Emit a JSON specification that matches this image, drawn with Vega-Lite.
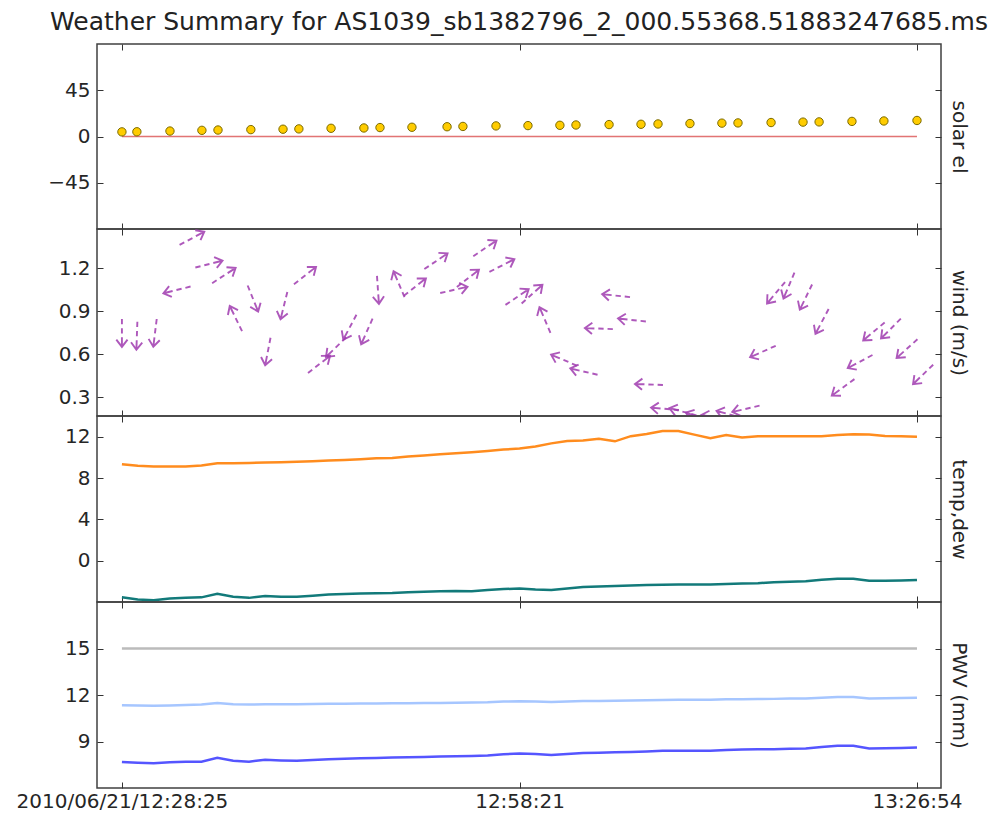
{
  "$schema": "https://vega.github.io/schema/vega-lite/v6.json",
  "padding": {"left": 15, "top": 9, "right": 5, "bottom": 0},
  "background": "white",
  "bounds": "flush",
  "title": {"text": "Weather Summary for AS1039_sb1382796_2_000.55368.51883247685.ms", "font": "DejaVu Sans", "fontSize": 25, "fontWeight": "normal", "color": "#222222", "anchor": "middle", "frame": "group", "offset": 8},
  "config": {
    "view": {"stroke": "#404040", "strokeWidth": 1.5},
    "axis": {"domain": false, "grid": false, "labelFont": "DejaVu Sans", "labelFontSize": 20, "labelColor": "#262626", "labelLimit": 400, "tickColor": "#333333", "tickWidth": 1, "titleFont": "DejaVu Sans", "titleFontSize": 20, "titleFontWeight": "normal", "titleColor": "#262626"}
  },
  "datasets": {
    "wx": [
      {"t":0,"temp":9.33,"dew":-3.55,"pwv_a":11.34,"pwv_b":7.68},
      {"t":70,"temp":9.18,"dew":-3.75,"pwv_a":11.32,"pwv_b":7.63},
      {"t":140,"temp":9.12,"dew":-3.82,"pwv_a":11.30,"pwv_b":7.60},
      {"t":211,"temp":9.12,"dew":-3.65,"pwv_a":11.33,"pwv_b":7.66},
      {"t":281,"temp":9.12,"dew":-3.58,"pwv_a":11.36,"pwv_b":7.70},
      {"t":351,"temp":9.22,"dew":-3.55,"pwv_a":11.38,"pwv_b":7.70},
      {"t":421,"temp":9.42,"dew":-3.20,"pwv_a":11.48,"pwv_b":7.95},
      {"t":491,"temp":9.43,"dew":-3.50,"pwv_a":11.40,"pwv_b":7.76},
      {"t":561,"temp":9.45,"dew":-3.60,"pwv_a":11.38,"pwv_b":7.70},
      {"t":632,"temp":9.50,"dew":-3.42,"pwv_a":11.41,"pwv_b":7.82},
      {"t":702,"temp":9.53,"dew":-3.48,"pwv_a":11.40,"pwv_b":7.78},
      {"t":772,"temp":9.58,"dew":-3.50,"pwv_a":11.40,"pwv_b":7.76},
      {"t":842,"temp":9.63,"dew":-3.40,"pwv_a":11.42,"pwv_b":7.80},
      {"t":912,"temp":9.70,"dew":-3.27,"pwv_a":11.43,"pwv_b":7.85},
      {"t":982,"temp":9.75,"dew":-3.22,"pwv_a":11.44,"pwv_b":7.88},
      {"t":1053,"temp":9.82,"dew":-3.18,"pwv_a":11.45,"pwv_b":7.92},
      {"t":1123,"temp":9.90,"dew":-3.15,"pwv_a":11.45,"pwv_b":7.94},
      {"t":1193,"temp":9.93,"dew":-3.12,"pwv_a":11.46,"pwv_b":7.96},
      {"t":1263,"temp":10.08,"dew":-3.05,"pwv_a":11.47,"pwv_b":7.98},
      {"t":1333,"temp":10.18,"dew":-3.02,"pwv_a":11.48,"pwv_b":8.00},
      {"t":1404,"temp":10.30,"dew":-2.97,"pwv_a":11.49,"pwv_b":8.03},
      {"t":1474,"temp":10.40,"dew":-2.93,"pwv_a":11.50,"pwv_b":8.05},
      {"t":1544,"temp":10.50,"dew":-2.95,"pwv_a":11.52,"pwv_b":8.07},
      {"t":1614,"temp":10.62,"dew":-2.85,"pwv_a":11.53,"pwv_b":8.10},
      {"t":1684,"temp":10.75,"dew":-2.75,"pwv_a":11.58,"pwv_b":8.18},
      {"t":1755,"temp":10.85,"dew":-2.70,"pwv_a":11.60,"pwv_b":8.22},
      {"t":1825,"temp":11.05,"dew":-2.80,"pwv_a":11.58,"pwv_b":8.20},
      {"t":1895,"temp":11.35,"dew":-2.85,"pwv_a":11.55,"pwv_b":8.13},
      {"t":1965,"temp":11.58,"dew":-2.70,"pwv_a":11.58,"pwv_b":8.20},
      {"t":2035,"temp":11.62,"dew":-2.55,"pwv_a":11.61,"pwv_b":8.26},
      {"t":2105,"temp":11.80,"dew":-2.50,"pwv_a":11.62,"pwv_b":8.28},
      {"t":2176,"temp":11.55,"dew":-2.45,"pwv_a":11.63,"pwv_b":8.30},
      {"t":2246,"temp":12.05,"dew":-2.40,"pwv_a":11.64,"pwv_b":8.33},
      {"t":2316,"temp":12.25,"dew":-2.36,"pwv_a":11.66,"pwv_b":8.36},
      {"t":2386,"temp":12.55,"dew":-2.33,"pwv_a":11.68,"pwv_b":8.40},
      {"t":2456,"temp":12.55,"dew":-2.30,"pwv_a":11.70,"pwv_b":8.40},
      {"t":2526,"temp":12.20,"dew":-2.30,"pwv_a":11.70,"pwv_b":8.40},
      {"t":2597,"temp":11.85,"dew":-2.30,"pwv_a":11.70,"pwv_b":8.41},
      {"t":2667,"temp":12.15,"dew":-2.25,"pwv_a":11.72,"pwv_b":8.45},
      {"t":2737,"temp":11.92,"dew":-2.20,"pwv_a":11.73,"pwv_b":8.48},
      {"t":2807,"temp":12.04,"dew":-2.18,"pwv_a":11.74,"pwv_b":8.50},
      {"t":2877,"temp":12.05,"dew":-2.08,"pwv_a":11.75,"pwv_b":8.50},
      {"t":2947,"temp":12.05,"dew":-2.04,"pwv_a":11.77,"pwv_b":8.53},
      {"t":3018,"temp":12.04,"dew":-2.00,"pwv_a":11.78,"pwv_b":8.55},
      {"t":3088,"temp":12.04,"dew":-1.85,"pwv_a":11.83,"pwv_b":8.65},
      {"t":3158,"temp":12.15,"dew":-1.76,"pwv_a":11.87,"pwv_b":8.72},
      {"t":3228,"temp":12.24,"dew":-1.74,"pwv_a":11.87,"pwv_b":8.72},
      {"t":3298,"temp":12.20,"dew":-1.95,"pwv_a":11.78,"pwv_b":8.55},
      {"t":3368,"temp":12.07,"dew":-1.95,"pwv_a":11.79,"pwv_b":8.56},
      {"t":3439,"temp":12.03,"dew":-1.92,"pwv_a":11.80,"pwv_b":8.58},
      {"t":3509,"temp":12.00,"dew":-1.87,"pwv_a":11.82,"pwv_b":8.62}
    ],
    "sun": [
      {"t":0,"el":4.5},{"t":66,"el":4.6},{"t":212,"el":5.3},{"t":353,"el":6.0},{"t":424,"el":6.3},
      {"t":569,"el":6.7},{"t":711,"el":7.1},{"t":781,"el":7.4},{"t":923,"el":8.0},{"t":1068,"el":8.3},
      {"t":1139,"el":8.7},{"t":1280,"el":9.0},{"t":1435,"el":9.5},{"t":1505,"el":9.8},{"t":1651,"el":10.3},
      {"t":1792,"el":10.6},{"t":1933,"el":10.9},{"t":2004,"el":11.2},{"t":2150,"el":11.6},{"t":2291,"el":11.9},
      {"t":2366,"el":12.2},{"t":2507,"el":12.6},{"t":2648,"el":13.0},{"t":2719,"el":13.2},{"t":2865,"el":13.6},
      {"t":3006,"el":14.0},{"t":3077,"el":14.2},{"t":3222,"el":14.7},{"t":3363,"el":15.1},{"t":3509,"el":15.6}
    ],
    "wind": [
      {"t":0,"speed":0.75,"dir":180},{"t":66,"speed":0.73,"dir":182},{"t":146,"speed":0.75,"dir":187},
      {"t":243,"speed":1.05,"dir":256},{"t":309,"speed":1.41,"dir":62},{"t":384,"speed":1.23,"dir":76},
      {"t":450,"speed":1.15,"dir":57},{"t":503,"speed":0.85,"dir":334},{"t":578,"speed":0.99,"dir":158},
      {"t":644,"speed":0.62,"dir":191},{"t":715,"speed":0.94,"dir":194},{"t":808,"speed":1.15,"dir":52},
      {"t":870,"speed":0.53,"dir":52},{"t":945,"speed":0.65,"dir":226},{"t":1006,"speed":0.79,"dir":208},
      {"t":1081,"speed":0.76,"dir":204},{"t":1130,"speed":1.05,"dir":176},{"t":1223,"speed":1.09,"dir":337},
      {"t":1293,"speed":1.07,"dir":52},{"t":1386,"speed":1.25,"dir":56},{"t":1465,"speed":1.05,"dir":77},
      {"t":1527,"speed":1.13,"dir":52},{"t":1602,"speed":1.34,"dir":56},{"t":1677,"speed":1.22,"dir":63},
      {"t":1744,"speed":1.00,"dir":56},{"t":1810,"speed":1.02,"dir":48},{"t":1867,"speed":0.84,"dir":337},
      {"t":1951,"speed":0.56,"dir":293},{"t":2039,"speed":0.48,"dir":283},{"t":2105,"speed":0.78,"dir":272},
      {"t":2181,"speed":1.01,"dir":276},{"t":2251,"speed":0.84,"dir":276},{"t":2326,"speed":0.39,"dir":272},
      {"t":2397,"speed":0.22,"dir":275},{"t":2476,"speed":0.20,"dir":285},{"t":2547,"speed":0.16,"dir":290},
      {"t":2618,"speed":0.16,"dir":280},{"t":2684,"speed":0.18,"dir":285},{"t":2754,"speed":0.22,"dir":257},
      {"t":2829,"speed":0.62,"dir":246},{"t":2887,"speed":1.03,"dir":220},{"t":2944,"speed":1.08,"dir":203},
      {"t":3019,"speed":1.00,"dir":206},{"t":3090,"speed":0.83,"dir":208},{"t":3183,"speed":0.37,"dir":234},
      {"t":3258,"speed":0.55,"dir":242},{"t":3319,"speed":0.76,"dir":230},{"t":3394,"speed":0.78,"dir":225},
      {"t":3465,"speed":0.64,"dir":228},{"t":3536,"speed":0.46,"dir":226}
    ]
  },
  "spacing": 0,
  "vconcat": [
    {
      "width": 844, "height": 185,
      "data": {"name": "sun"},
      "layer": [
        {
          "mark": {"type": "line", "color": "#dd5c5c", "strokeWidth": 1.5, "opacity": 0.85},
          "encoding": {
            "x": {"field": "t", "type": "quantitative", "scale": {"domain": [-110, 3615], "nice": false, "zero": false}, "axis": {"orient": "bottom", "values": [0, 1755, 3509], "labels": false, "tickSize": -6, "title": null}},
            "y": {"datum": 0, "type": "quantitative", "scale": {"domain": [-90, 90], "nice": false, "zero": false}, "axis": {"orient": "left", "values": [-45, 0, 45], "tickSize": -6, "labelPadding": 13, "title": null}}
          }
        },
        {
          "mark": {"type": "point", "shape": "circle", "filled": true, "size": 70, "color": "#ffcc00", "stroke": "#7a6a00", "strokeWidth": 1, "opacity": 1},
          "encoding": {
            "x": {"field": "t", "type": "quantitative", "axis": {"orient": "top", "values": [0, 1755, 3509], "labels": false, "tickSize": -6, "title": null}},
            "y": {"field": "el", "type": "quantitative", "axis": {"orient": "right", "values": [-45, 0, 45], "labels": false, "tickSize": -6, "title": "solar el", "titlePadding": 11, "titleBaseline": "alphabetic"}}
          }
        }
      ],
      "resolve": {"axis": {"x": "independent", "y": "independent"}}
    },
    {
      "width": 844, "height": 187,
      "data": {"name": "wind"},
      "layer": [
        {
          "mark": {"type": "point", "shape": "M0,1L0,0.62M0,0.34L0,-0.04M0,-0.32L0,-0.98M-0.4,-0.48L0,-1L0.4,-0.48", "size": 784, "filled": false, "stroke": "#a03cb0", "strokeWidth": 1.9, "opacity": 0.85, "clip": true},
          "encoding": {
            "x": {"field": "t", "type": "quantitative", "scale": {"domain": [-110, 3615], "nice": false, "zero": false}, "axis": {"orient": "bottom", "values": [0, 1755, 3509], "labels": false, "tickSize": -6, "title": null}},
            "y": {"field": "speed", "type": "quantitative", "scale": {"domain": [0.17, 1.475], "nice": false, "zero": false}, "axis": {"orient": "left", "values": [0.3, 0.6, 0.9, 1.2], "format": ".1f", "tickSize": -6, "labelPadding": 13, "title": null}},
            "angle": {"field": "dir", "type": "quantitative", "scale": null}
          }
        },
        {
          "mark": {"type": "point", "opacity": 0},
          "encoding": {
            "x": {"field": "t", "type": "quantitative", "axis": {"orient": "top", "values": [0, 1755, 3509], "labels": false, "tickSize": -6, "title": null}},
            "y": {"field": "speed", "type": "quantitative", "axis": {"orient": "right", "values": [0.3, 0.6, 0.9, 1.2], "labels": false, "tickSize": -6, "title": "wind (m/s)", "titlePadding": 11, "titleBaseline": "alphabetic"}}
          }
        }
      ],
      "resolve": {"axis": {"x": "independent", "y": "independent"}}
    },
    {
      "width": 844, "height": 186,
      "data": {"name": "wx"},
      "layer": [
        {
          "mark": {"type": "line", "color": "#ff8c1e", "strokeWidth": 2.5},
          "encoding": {
            "x": {"field": "t", "type": "quantitative", "scale": {"domain": [-110, 3615], "nice": false, "zero": false}, "axis": {"orient": "bottom", "values": [0, 1755, 3509], "labels": false, "tickSize": -6, "title": null}},
            "y": {"field": "temp", "type": "quantitative", "scale": {"domain": [-4, 14], "nice": false, "zero": false}, "axis": {"orient": "left", "values": [0, 4, 8, 12], "tickSize": -6, "labelPadding": 13, "title": null}}
          }
        },
        {
          "mark": {"type": "line", "color": "#127a7a", "strokeWidth": 2.5},
          "encoding": {
            "x": {"field": "t", "type": "quantitative", "axis": {"orient": "top", "values": [0, 1755, 3509], "labels": false, "tickSize": -6, "title": null}},
            "y": {"field": "dew", "type": "quantitative", "axis": {"orient": "right", "values": [0, 4, 8, 12], "labels": false, "tickSize": -6, "title": "temp,dew", "titlePadding": 11, "titleBaseline": "alphabetic"}}
          }
        }
      ],
      "resolve": {"axis": {"x": "independent", "y": "independent"}}
    },
    {
      "width": 844, "height": 186,
      "data": {"name": "wx"},
      "layer": [
        {
          "mark": {"type": "line", "color": "#bbbbbb", "strokeWidth": 2.5},
          "encoding": {
            "x": {"field": "t", "type": "quantitative", "scale": {"domain": [-110, 3615], "nice": false, "zero": false}, "axis": {"orient": "bottom", "values": [0, 1755, 3509], "tickSize": -6, "labelPadding": 9, "labelFlush": false, "labelLimit": 400, "labelExpr": "datum.value == 0 ? '2010/06/21/12:28:25' : (datum.value == 1755 ? '12:58:21' : '13:26:54')", "title": null}},
            "y": {"datum": 15, "type": "quantitative", "scale": {"domain": [6, 18], "nice": false, "zero": false}, "axis": {"orient": "left", "values": [9, 12, 15], "tickSize": -6, "labelPadding": 13, "title": null}}
          }
        },
        {
          "mark": {"type": "line", "color": "#a6c6ff", "strokeWidth": 2.5},
          "encoding": {
            "x": {"field": "t", "type": "quantitative", "axis": {"orient": "top", "values": [0, 1755, 3509], "labels": false, "tickSize": -6, "title": null}},
            "y": {"field": "pwv_a", "type": "quantitative", "axis": {"orient": "right", "values": [9, 12, 15], "labels": false, "tickSize": -6, "title": "PWV (mm)", "titlePadding": 11, "titleBaseline": "alphabetic"}}
          }
        },
        {
          "mark": {"type": "line", "color": "#5555ff", "strokeWidth": 2.5},
          "encoding": {
            "x": {"field": "t", "type": "quantitative", "axis": null},
            "y": {"field": "pwv_b", "type": "quantitative", "axis": null}
          }
        }
      ],
      "resolve": {"axis": {"x": "independent", "y": "independent"}}
    }
  ]
}
